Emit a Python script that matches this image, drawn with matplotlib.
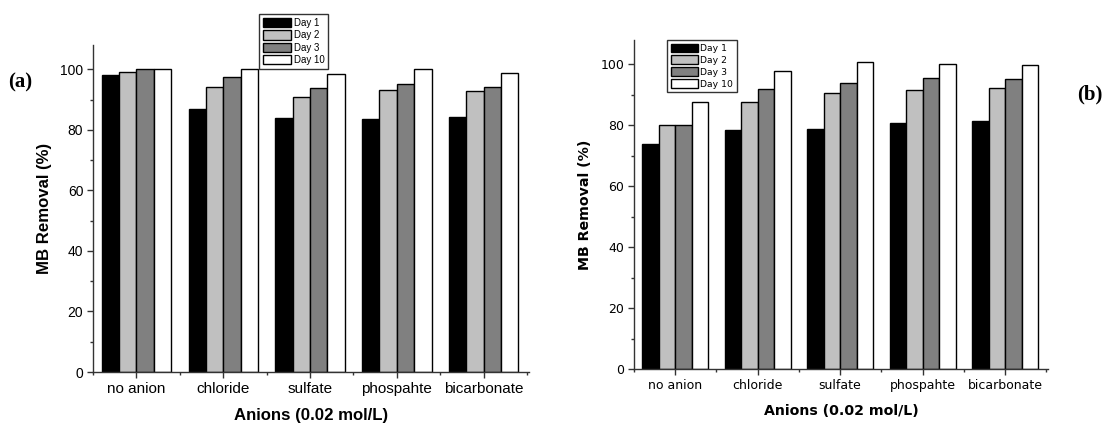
import matplotlib.pyplot as plt
import numpy as np
from matplotlib.ticker import MultipleLocator, FixedLocator

# Anions tested and the four sampling days
anions = ['no anion', 'chloride', 'sulfate', 'phospahte', 'bicarbonate']
days = ['Day 1', 'Day 2', 'Day 3', 'Day 10']
day_colors = ['#000000', '#c0c0c0', '#808080', '#ffffff']

# Panel (a): MB removal (%) per anion, one list per day
removal_a_day1 = [98.2, 86.9, 84.0, 83.7, 84.1]
removal_a_day2 = [99.2, 94.3, 90.8, 93.3, 93.0]
removal_a_day3 = [100.0, 97.6, 93.7, 95.1, 94.2]
removal_a_day10 = [100.0, 100.0, 98.5, 100.0, 98.8]

# Panel (b): MB removal (%) per anion, one list per day
removal_b_day1 = [73.7, 78.5, 78.7, 80.9, 81.5]
removal_b_day2 = [80.0, 87.7, 90.5, 91.5, 92.3]
removal_b_day3 = [80.0, 92.0, 94.0, 95.6, 95.3]
removal_b_day10 = [87.5, 97.8, 100.7, 100.0, 99.8]


def draw_panel(ax, series, font, sizes):
    """Draw one grouped bar panel with Origin-like axes."""
    x = np.arange(1, len(anions) + 1)
    width = 0.2
    for i, values in enumerate(series):
        offset = (i - 1.5) * width
        ax.bar(x + offset, values, width, color=day_colors[i],
               edgecolor='black', linewidth=1.0, label=days[i])

    ax.set_xlim(0.5, 5.52)
    ax.set_ylim(0, 108)
    for side in ['top', 'right']:
        ax.spines[side].set_visible(False)
    for side in ['left', 'bottom']:
        ax.spines[side].set_linewidth(1.0)
        ax.spines[side].set_color('#333333')

    ax.set_xticks(x)
    ax.set_xticklabels(anions, fontfamily=font, fontsize=sizes['xtick'])
    ax.xaxis.set_minor_locator(FixedLocator(np.arange(0.5, 6.0, 1.0)))
    ax.yaxis.set_major_locator(MultipleLocator(20))
    ax.yaxis.set_minor_locator(MultipleLocator(10))
    for lab in ax.get_yticklabels():
        lab.set_fontfamily(font)
        lab.set_fontsize(sizes['ytick'])
    ax.tick_params(axis='both', which='major', direction='out', length=4,
                   width=1.0, color='#333333', pad=3)
    ax.tick_params(axis='both', which='minor', direction='out', length=2,
                   width=1.0, color='#333333')

    ax.set_xlabel('Anions (0.02 mol/L)', fontfamily=font, fontweight='bold',
                  fontsize=sizes['label'], labelpad=9)
    ax.set_ylabel('MB Removal (%)', fontfamily=font, fontweight='bold',
                  fontsize=sizes['label'], labelpad=6)


def add_legend(ax, anchor, font, size):
    """Boxed legend placed in figure coordinates."""
    ax.legend(loc='upper left', bbox_to_anchor=anchor,
              bbox_transform=ax.figure.transFigure,
              prop={'family': font, 'size': size},
              fancybox=False, edgecolor='#333333', framealpha=1,
              handlelength=2.9, handleheight=1.05, labelspacing=0.25,
              handletextpad=0.3, borderpad=0.4, borderaxespad=0)


fig = plt.figure(figsize=(11.06, 4.24), dpi=100)

# Panel (a)
ax_a = fig.add_axes([0.0841, 0.1226, 0.394, 0.771])
sizes_a = {'xtick': 11, 'ytick': 10, 'label': 12.1}
draw_panel(ax_a, [removal_a_day1, removal_a_day2, removal_a_day3, removal_a_day10],
           'Liberation Sans', sizes_a)
add_legend(ax_a, (0.234, 0.967), 'Liberation Sans', 7)
fig.text(0.007, 0.806, '(a)', fontfamily='Liberation Serif', fontweight='bold',
         fontsize=15, va='center', ha='left')

# Panel (b)
ax_b = fig.add_axes([0.5732, 0.1297, 0.3743, 0.776])
sizes_b = {'xtick': 9, 'ytick': 9, 'label': 10.2}
draw_panel(ax_b, [removal_b_day1, removal_b_day2, removal_b_day3, removal_b_day10],
           'DejaVu Sans', sizes_b)
add_legend(ax_b, (0.603, 0.906), 'DejaVu Sans', 6.7)
fig.text(0.974, 0.776, '(b)', fontfamily='Liberation Serif', fontweight='bold',
         fontsize=15, va='center', ha='left')

fig.savefig('out.png', dpi=100)
